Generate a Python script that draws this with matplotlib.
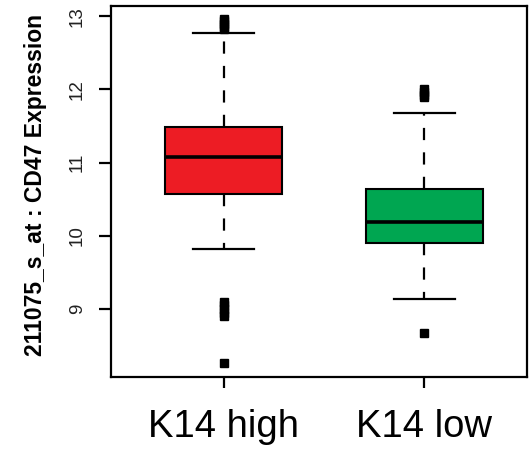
import matplotlib
matplotlib.use("Agg")
from matplotlib import pyplot as plt

# values
groups = ["K14 high", "K14 low"]
colors = ["#ED1C24", "#00A651"]
q1 = [10.57, 9.90]
median = [11.08, 10.19]
q3 = [11.48, 10.64]
whisker_low = [9.82, 9.14]
whisker_high = [12.77, 11.68]
fliers_high = [12.82, 12.86, 12.90, 12.93, 12.96, 9.10, 9.05, 9.00, 8.95, 8.91, 8.26]
fliers_low = [12.00, 11.96, 11.92, 11.89, 8.67]
y_ticks = [9, 10, 11, 12, 13]

plt.rcParams["font.family"] = ["Liberation Sans", "DejaVu Sans"]


def make_stats():
    fliers = [fliers_high, fliers_low]
    stats = []
    for i in range(len(groups)):
        stats.append({
            "label": groups[i],
            "q1": q1[i],
            "med": median[i],
            "q3": q3[i],
            "whislo": whisker_low[i],
            "whishi": whisker_high[i],
            "fliers": fliers[i],
        })
    return stats


def main():
    fig = plt.figure(figsize=(5.3, 4.5), dpi=100)
    ax = fig.add_axes([0.2094, 0.1622, 0.7849, 0.8244])

    bp = ax.bxp(make_stats(), positions=[1, 2], widths=0.58,
                patch_artist=True, showfliers=True,
                boxprops=dict(linewidth=1.5, edgecolor="black"),
                medianprops=dict(color="black", linewidth=2.6),
                whiskerprops=dict(color="black", linewidth=1.6,
                                  linestyle=(0, (5.5, 5.5))),
                capprops=dict(color="black", linewidth=1.6),
                flierprops=dict(marker="s", markersize=5.5,
                                markerfacecolor="black",
                                markeredgecolor="black"),
                capwidths=0.3)
    for patch, color in zip(bp["boxes"], colors):
        patch.set_facecolor(color)

    ax.set_xlim(0.44, 2.51)
    ax.set_ylim(8.07, 13.14)
    ax.set_yticks(y_ticks)
    ax.set_yticklabels([str(t) for t in y_ticks])
    for label in ax.get_yticklabels():
        label.set_rotation(90)
        label.set_va("center")
    ax.set_xticks([1, 2])
    ax.set_xticklabels(groups)

    for spine in ax.spines.values():
        spine.set_linewidth(1.6)
    ax.tick_params(axis="y", length=9, width=1.6, pad=9, labelsize=13.5,
                   labelcolor="#222222")
    ax.tick_params(axis="x", length=8, width=1.6, pad=15, labelsize=27.5)

    ax.set_ylabel("211075_s_at : CD47 Expression", fontsize=16.5,
                  fontweight="bold")
    ax.yaxis.set_label_coords(-0.155, 0.518)

    fig.savefig("out.png", dpi=100)


if __name__ == "__main__":
    main()
